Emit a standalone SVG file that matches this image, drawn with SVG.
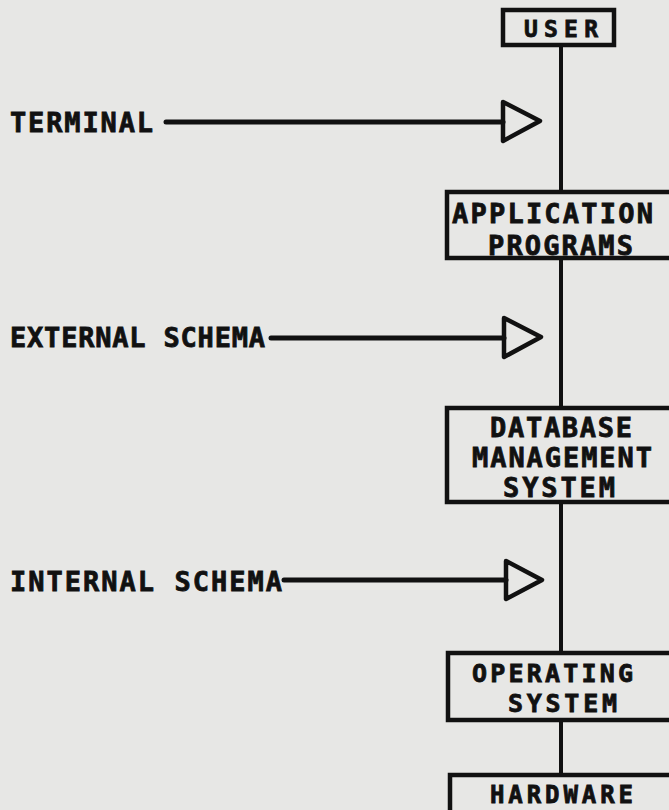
<svg xmlns="http://www.w3.org/2000/svg" width="669" height="810" viewBox="0 0 669 810">
<style>
.bg{fill:#e7e7e5}
.box{fill:none;stroke:#111;stroke-width:4.5}
.t{font-family:"DejaVu Sans Mono","Liberation Mono",monospace;font-weight:bold;font-size:27px;fill:#111;stroke:#111;stroke-width:0.8}
.lbl{font-family:"DejaVu Sans Mono","Liberation Mono",monospace;font-weight:bold;font-size:27px;fill:#111;stroke:#111;stroke-width:0.8}
.ln{stroke:#111;stroke-width:4;fill:none}
.arr{stroke:#111;stroke-width:5;fill:none;stroke-linecap:round}
.tri{fill:none;stroke:#111;stroke-width:4.5;stroke-linejoin:round}
</style>
<rect class="bg" x="0" y="0" width="669" height="810"/>
<g id="connectors">
<line class="ln" x1="561" y1="45" x2="561" y2="192"/>
<line class="ln" x1="561" y1="258" x2="561" y2="408"/>
<line class="ln" x1="561" y1="502" x2="561" y2="653"/>
<line class="ln" x1="561" y1="720" x2="561" y2="775"/>
</g>
<g id="user"><rect class="box" x="503" y="10" width="111" height="35"/><text class="t" x="524" y="37" textLength="74" lengthAdjust="spacing" style="font-size:23px">USER</text></g>
<g id="application"><rect class="box" x="447" y="192" width="240" height="66"/><text class="t" x="452" y="223" textLength="201" lengthAdjust="spacing">APPLICATION</text><text class="t" x="488" y="255" textLength="145" lengthAdjust="spacing">PROGRAMS</text></g>
<g id="dbms"><rect class="box" x="447" y="408" width="240" height="94"/><text class="t" x="490" y="437" textLength="142" lengthAdjust="spacing">DATABASE</text><text class="t" x="472" y="467" textLength="180" lengthAdjust="spacing">MANAGEMENT</text><text class="t" x="503" y="497" textLength="112" lengthAdjust="spacing">SYSTEM</text></g>
<g id="os"><rect class="box" x="448" y="653" width="240" height="67"/><text class="t" x="472" y="682" textLength="161" lengthAdjust="spacing" style="font-size:25px">OPERATING</text><text class="t" x="508" y="712" textLength="109" lengthAdjust="spacing" style="font-size:25px">SYSTEM</text></g>
<g id="hardware"><rect class="box" x="450" y="775" width="240" height="60"/><text class="t" x="490" y="803" textLength="143" lengthAdjust="spacing" style="font-size:24px">HARDWARE</text></g>
<g id="terminal"><text class="lbl" x="10" y="132" textLength="143" lengthAdjust="spacing">TERMINAL</text><line class="arr" x1="166" y1="122" x2="503" y2="122"/><polygon class="tri" points="503,102 540,121 503,141"/></g>
<g id="external"><text class="lbl" x="10" y="347" textLength="255" lengthAdjust="spacing">EXTERNAL SCHEMA</text><line class="arr" x1="271" y1="338" x2="504" y2="338"/><polygon class="tri" points="504,318 541,337 504,357"/></g>
<g id="internal"><text class="lbl" x="10" y="591" textLength="272" lengthAdjust="spacing">INTERNAL SCHEMA</text><line class="arr" x1="284" y1="580" x2="506" y2="580"/><polygon class="tri" points="506,561 542,580 506,599"/></g>
</svg>
